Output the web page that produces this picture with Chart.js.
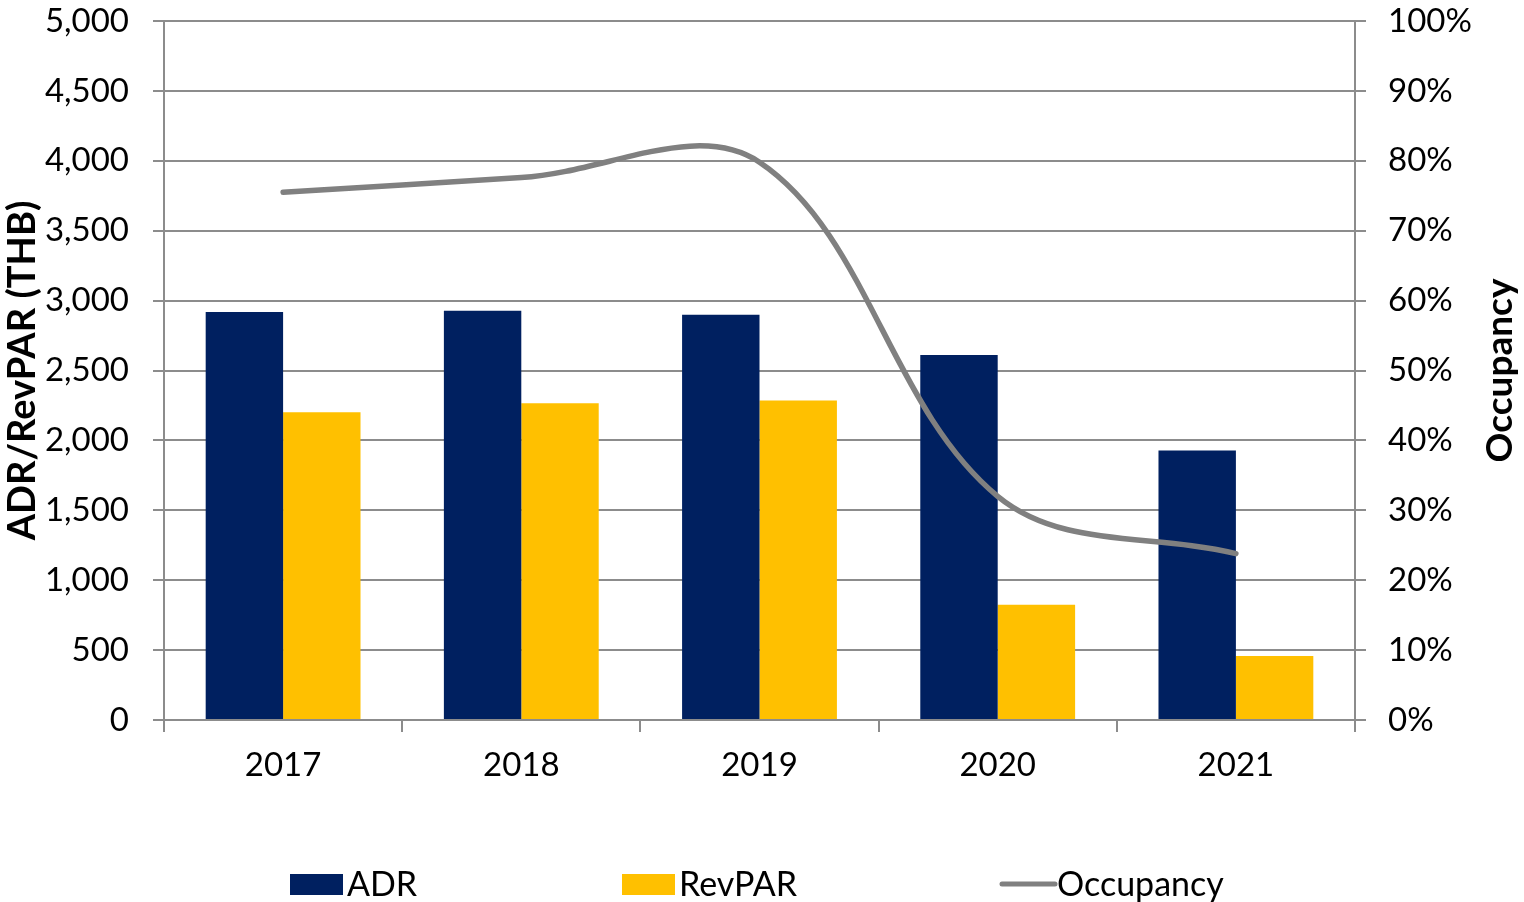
<!DOCTYPE html>
<html>
<head>
<meta charset="utf-8">
<title>ADR / RevPAR / Occupancy</title>
<script src="https://cdn.jsdelivr.net/npm/chart.js@4.4.1/dist/chart.umd.min.js"></script>
<style>
  html, body { margin: 0; padding: 0; background: #fff; }
  #wrap { width: 1524px; height: 902px; position: relative; }
</style>
</head>
<body>
<div id="wrap"><canvas id="hotelChart"></canvas></div>
<script>
// values
const years = ['2017', '2018', '2019', '2020', '2021'];
const adr = [2918, 2928, 2899, 2610, 1927];
const revpar = [2201, 2266, 2285, 824, 458];
const occupancy = [75.5, 77.6, 79.8, 32.0, 23.8];

const FONT = 'Lato, "Open Sans", sans-serif';
const GRID = '#8c8c8c';

// bottom legend, drawn by hand so the wide gaps match
const bottomLegend = {
    id: 'bottomLegend',
    afterDraw(chart) {
        const ctx = chart.ctx;
        const y = 884;
        const spots = [290, 622, 1000];
        ctx.save();
        ctx.font = '34px ' + FONT;
        ctx.textBaseline = 'middle';
        chart.data.datasets.slice().sort((a, b) => a.legendIndex - b.legendIndex).forEach((ds, i) => {
            const x = spots[i];
            if (ds.type === 'line') {
                ctx.strokeStyle = ds.borderColor;
                ctx.lineWidth = 5;
                ctx.lineCap = 'round';
                ctx.beginPath();
                ctx.moveTo(x + 2, y);
                ctx.lineTo(x + 55, y);
                ctx.stroke();
            } else {
                ctx.fillStyle = ds.backgroundColor;
                ctx.fillRect(x, y - 10, 53, 21);
            }
            ctx.fillStyle = '#000';
            ctx.textAlign = 'left';
            ctx.fillText(ds.label, x + 57, y + 1);
        });
        ctx.restore();
    }
};

// right axis title reads bottom-to-top
const rightTitle = {
    id: 'rightTitle',
    afterDraw(chart) {
        const ctx = chart.ctx;
        const area = chart.chartArea;
        ctx.save();
        ctx.translate(1500, (area.top + area.bottom) / 2);
        ctx.rotate(-Math.PI / 2);
        ctx.font = 'bold 37px ' + FONT;
        ctx.fillStyle = '#000';
        ctx.textAlign = 'center';
        ctx.textBaseline = 'middle';
        ctx.fillText('Occupancy', 0, 0);
        ctx.restore();
    }
};

const ctx = document.getElementById('hotelChart').getContext('2d');
const hotelChart = new Chart(ctx, {
    type: 'bar',
    data: {
        labels: years,
        datasets: [{
            type: 'line',
            label: 'Occupancy',
            legendIndex: 2,
            data: occupancy,
            yAxisID: 'y1',
            borderColor: '#808080',
            borderWidth: 5.5,
            borderCapStyle: 'round',
            pointRadius: 0,
            tension: 0.36,
            fill: false,
            order: 0
        }, {
            label: 'ADR',
            legendIndex: 0,
            data: adr,
            yAxisID: 'y',
            backgroundColor: '#002060',
            categoryPercentage: 0.65,
            barPercentage: 1.0,
            order: 1
        }, {
            label: 'RevPAR',
            legendIndex: 1,
            data: revpar,
            yAxisID: 'y',
            backgroundColor: '#FFC000',
            categoryPercentage: 0.65,
            barPercentage: 1.0,
            order: 1
        }]
    },
    options: {
        responsive: true,
        maintainAspectRatio: false,
        animation: false,
        layout: {
            padding: { top: 21, left: 0, right: 0, bottom: 0 }
        },
        plugins: {
            legend: { display: false },
            tooltip: { enabled: false },
            title: { display: false }
        },
        scales: {
            x: {
                offset: true,
                grid: {
                    offset: true,
                    drawOnChartArea: false,
                    drawTicks: true,
                    tickLength: 12,
                    color: GRID,
                    lineWidth: 2
                },
                border: { display: true, color: GRID, width: 2 },
                ticks: {
                    color: '#000',
                    padding: 14,
                    font: { family: FONT, size: 33 }
                },
                afterFit(scale) { scale.height = 182; }
            },
            y: {
                position: 'left',
                min: 0,
                max: 5000,
                grid: {
                    color: GRID,
                    lineWidth: 2,
                    tickLength: 11
                },
                border: { display: true, color: GRID, width: 2 },
                ticks: {
                    stepSize: 500,
                    color: '#000',
                    padding: 24,
                    font: { family: FONT, size: 33 },
                    callback: v => v.toLocaleString('en-US')
                },
                title: {
                    display: true,
                    text: 'ADR/RevPAR (THB)',
                    color: '#000',
                    padding: 0,
                    font: { family: FONT, size: 38, weight: 'bold' }
                },
                afterFit(scale) {
                    scale.width = 164;
                    scale.paddingTop = 0;
                    scale.paddingBottom = 0;
                }
            },
            y1: {
                position: 'right',
                min: 0,
                max: 100,
                grid: {
                    drawOnChartArea: false,
                    color: GRID,
                    lineWidth: 2,
                    tickLength: 11
                },
                border: { display: true, color: GRID, width: 2 },
                ticks: {
                    stepSize: 10,
                    color: '#000',
                    padding: 22,
                    font: { family: FONT, size: 33 },
                    callback: v => v + '%'
                },
                afterFit(scale) {
                    scale.width = 169;
                    scale.paddingTop = 0;
                    scale.paddingBottom = 0;
                }
            }
        }
    },
    plugins: [bottomLegend, rightTitle]
});
</script>
</body>
</html>
